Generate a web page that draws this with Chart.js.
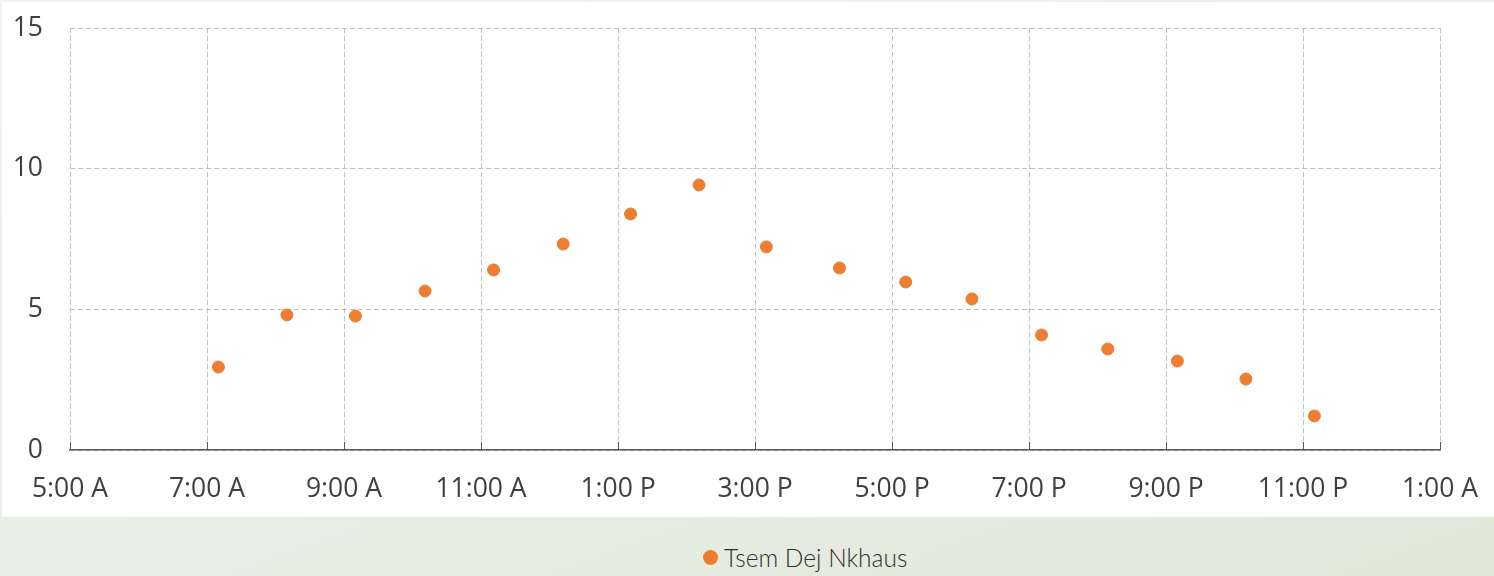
<!DOCTYPE html>
<html>
<head>
<meta charset="utf-8">
<script src="https://cdn.jsdelivr.net/npm/chart.js@4.4.1/dist/chart.umd.min.js"></script>
<style>
  html, body { margin: 0; padding: 0; }
  body {
    width: 1494px; height: 576px; overflow: hidden; position: relative;
    background: linear-gradient(160deg, #f0f3ee 0%, #e9eee4 55%, #e1e7d7 100%);
  }
  #panel {
    position: absolute; left: 2px; top: 2px; width: 1492px; height: 515px;
    background: #ffffff;
  }
  #legend {
    position: absolute; top: 543px; left: 703px;
    font-family: Lato, 'Open Sans', sans-serif; font-weight: 300;
    font-size: 24.5px; color: #303030; display: flex; align-items: center;
  }
  #legend .dot {
    width: 15px; height: 15px; border-radius: 50%; margin-right: 6px;
  }
</style>
</head>
<body>
<div id="panel"><canvas id="chart"></canvas></div>
<div id="legend"></div>
<script>
// Dades llegides del gràfic: hora de la mesura i valor
const seriesLabel = 'Tsem Dej Nkhaus';
const times  = ['7:10', '8:10', '9:10', '10:11', '11:11', '12:12', '13:11', '14:11', '15:10',
                '16:14', '17:12', '18:10', '19:11', '20:09', '21:10', '22:10', '23:10'];
const values = [2.95, 4.8, 4.76, 5.65, 6.4, 7.32, 8.39, 9.42, 7.22,
                6.47, 5.97, 5.37, 4.09, 3.59, 3.16, 2.52, 1.21];
const yTicks = [0, 5, 10, 15];

const ORANGE = '#ED7D31';
const GRID   = '#bfbfbf';
const AXIS   = '#595959';
const TEXT   = '#404040';

function toHours(t) {
  const [h, m] = t.split(':').map(Number);
  return h + m / 60;
}

function hourLabel(v) {
  const h = Math.round(v) % 24;
  const h12 = h % 12 === 0 ? 12 : h % 12;
  return `${h12}:00 ${h < 12 ? 'A' : 'P'}`;
}

const points = times.map((t, i) => ({ x: toHours(t), y: values[i] }));

// Marques de graduació cap a dins, sobre l'eix X (estil Excel)
const insideTicks = {
  id: 'insideTicks',
  afterDraw(chart) {
    const x = chart.scales.x;
    const ctx = chart.ctx;
    ctx.save();
    ctx.strokeStyle = AXIS;
    ctx.lineWidth = 1;
    x.ticks.forEach(t => {
      const px = Math.round(x.getPixelForValue(t.value)) + 0.5;
      ctx.beginPath();
      ctx.moveTo(px, x.top);
      ctx.lineTo(px, x.top - 8);
      ctx.stroke();
    });
    ctx.restore();
  }
};

const canvas = document.getElementById('chart');
canvas.width = 1492;
canvas.height = 515;

const chart = new Chart(canvas, {
  type: 'scatter',
  data: {
    datasets: [{
      label: seriesLabel,
      data: points,
      pointBackgroundColor: ORANGE,
      pointBorderColor: ORANGE,
      pointRadius: 6,
      pointHoverRadius: 6,
    }]
  },
  plugins: [insideTicks],
  options: {
    responsive: false,
    animation: false,
    layout: { padding: { top: 26, right: 54, left: 0, bottom: 0 } },
    plugins: { legend: { display: false }, tooltip: { enabled: false } },
    scales: {
      x: {
        type: 'linear',
        min: 5, max: 25,
        afterFit: s => { s.height = 67; s.paddingLeft = 0; s.paddingRight = 0; },
        border: { display: true, color: AXIS, width: 1.5, dash: [5, 3] },
        grid: { color: GRID, drawTicks: false, lineWidth: 1 },
        ticks: {
          stepSize: 2, padding: 24, color: TEXT,
          font: { family: "'Open Sans'", size: 26.5 },
          callback: v => hourLabel(v),
          maxRotation: 0, autoSkip: false,
        },
      },
      y: {
        min: 0, max: 15,
        afterFit: s => { s.width = 68; s.paddingTop = 0; s.paddingBottom = 0; },
        afterBuildTicks: s => { s.ticks = yTicks.map(v => ({ value: v })); },
        border: { display: false, dash: [5, 3] },
        grid: { color: GRID, drawTicks: false, lineWidth: 1 },
        ticks: {
          padding: 27, color: TEXT,
          font: { family: "'Open Sans'", size: 26.5 },
        },
      },
    },
  },
});

// Llegenda HTML a la franja inferior
const legendEl = document.getElementById('legend');
chart.data.datasets.forEach(ds => {
  const dot = document.createElement('span');
  dot.className = 'dot';
  dot.style.background = ds.pointBackgroundColor;
  const txt = document.createElement('span');
  txt.textContent = ds.label;
  legendEl.appendChild(dot);
  legendEl.appendChild(txt);
});
</script>
</body>
</html>
